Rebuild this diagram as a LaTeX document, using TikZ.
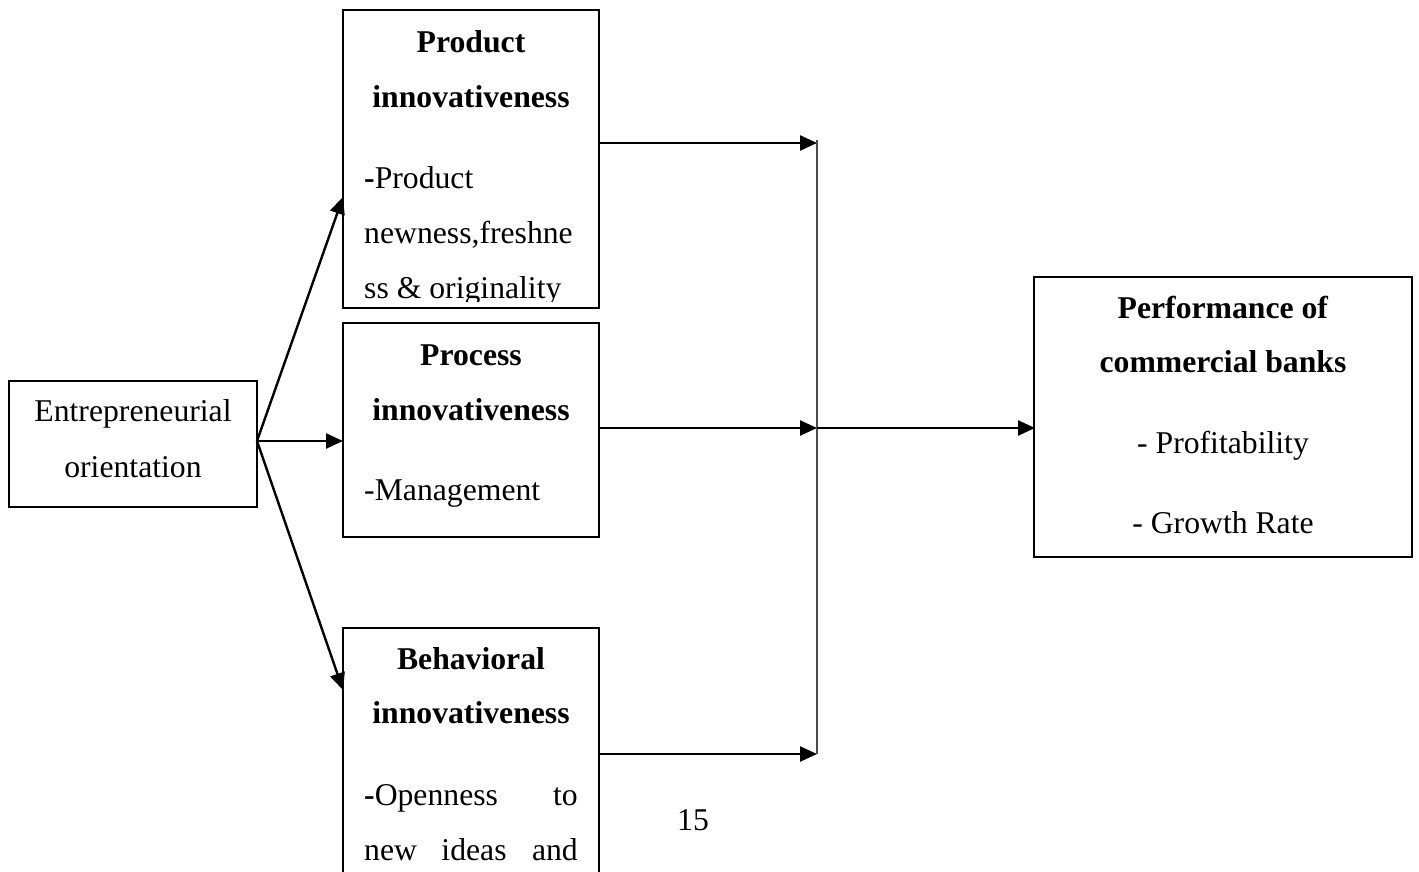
\documentclass[tikz,border=0pt]{standalone}
\usepackage{fontspec}
\setmainfont{Liberation Serif}
\usetikzlibrary{arrows.meta}
\begin{document}
\begin{tikzpicture}[x=1pt,y=-1pt,
  box/.style={draw, line width=2.7pt, rectangle, inner sep=0pt},
  txt/.style={inner sep=0pt, font=\fontsize{31.7}{38}\selectfont},
  txc/.style={txt, anchor=base},
  txl/.style={txt, anchor=base west},
  txr/.style={txt, anchor=base east},
  arr/.style={line width=2.4pt, -{Triangle[length=17pt,width=15pt]}},
  vline/.style={line width=1.8pt, draw=black!70}
]
\path[use as bounding box] (0,0) rectangle (1419,871);
\clip (0,0) rectangle (1419,871);

% boxes
\node[box, minimum width=248, minimum height=126] (eo) at (133,444) {};
\node[box, minimum width=256, minimum height=298] (prod) at (471,159) {};
\node[box, minimum width=256, minimum height=214] (proc) at (471,430) {};
\node[box, minimum width=256, minimum height=400] (beh) at (471,828) {};
\node[box, minimum width=378, minimum height=280] (perf) at (1223,417) {};

% Entrepreneurial orientation
\node[txc] (eo1) at (133,421) {Entrepreneurial};
\node[txc] (eo2) at (133,477) {orientation};

% Product box text (clipped by the box)
\begin{scope}
\clip (344,11) rectangle (598,301);
\node[txc] (pr1) at (471,52) {\textbf{Product}};
\node[txc] (pr2) at (471,107) {\textbf{innovativeness}};
\node[txl] (pr3) at (364,188) {\textbf{-}Product};
\node[txl] (pr4) at (364,243) {newness,freshne};
\node[txl] (pr5) at (364,298) {ss \& originality};
\end{scope}

% Process box text
\node[txc] (pc1) at (471,365) {\textbf{Process}};
\node[txc] (pc2) at (471,420) {\textbf{innovativeness}};
\node[txl] (pc3) at (364,500) {-Management};

% Behavioral box text
\node[txc] (bh1) at (471,669) {\textbf{Behavioral}};
\node[txc] (bh2) at (471,723) {\textbf{innovativeness}};
\node[txl] (bh3) at (364,805) {\textbf{-}Openness};
\node[txr] (bh4) at (578,805) {to};
\node[txl] (bh5) at (364,860) {new};
\node[txc] (bh6) at (474,860) {ideas};
\node[txr] (bh7) at (578,860) {and};

% Performance box text
\node[txc] (pf1) at (1223,318) {\textbf{Performance of}};
\node[txc] (pf2) at (1223,372) {\textbf{commercial banks}};
\node[txc] (pf3) at (1223,453) {- Profitability};
\node[txc] (pf4) at (1223,533) {- Growth Rate};

% page number
\node[txc] (pg) at (693,830) {15};

% connector coordinates
\coordinate (eoOut) at (257,441);
\coordinate (prodIn) at (343,197);
\coordinate (procIn) at (343,441);
\coordinate (behIn) at (343,690);
\coordinate (prodOut) at (599,143);
\coordinate (procOut) at (599,428);
\coordinate (behOut) at (599,754);
\coordinate (jTop) at (817,143);
\coordinate (jMid) at (817,428);
\coordinate (jBot) at (817,754);
\coordinate (perfIn) at (1035,428);

% left arrows
\draw[arr] (eoOut) -- (prodIn);
\draw[arr] (eoOut) -- (procIn);
\draw[arr] (eoOut) -- (behIn);

% right arrows
\draw[arr] (prodOut) -- (jTop);
\draw[arr] (procOut) -- (jMid);
\draw[arr] (behOut) -- (jBot);
\draw[vline] ([yshift=3]jTop) -- (jBot);
\draw[arr] (jMid) -- (perfIn);
\end{tikzpicture}
\end{document}
